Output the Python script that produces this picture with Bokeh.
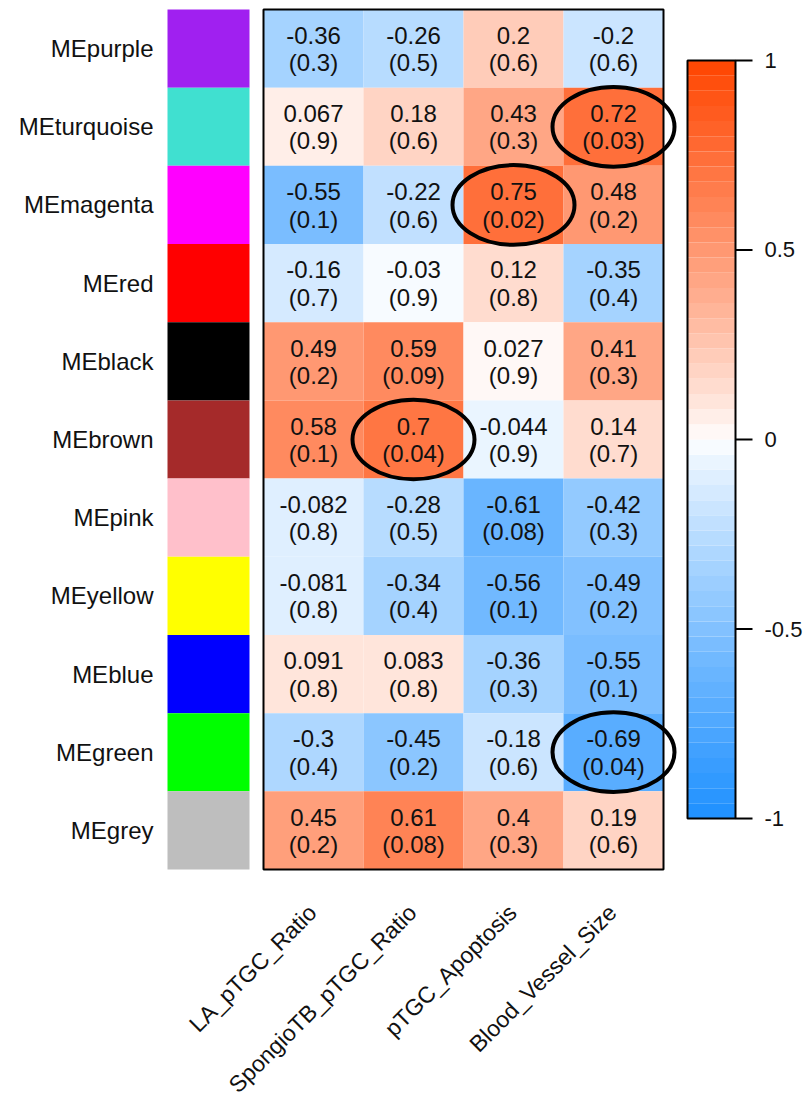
import numpy as np
from bokeh.plotting import figure
from bokeh.models import Range1d, ColumnDataSource
from bokeh.core.properties import value
from bokeh.embed import file_html
from bokeh.resources import INLINE

modules = ["MEpurple", "MEturquoise", "MEmagenta", "MEred", "MEblack", "MEbrown",
           "MEpink", "MEyellow", "MEblue", "MEgreen", "MEgrey"]
module_colors = ["#A020F0", "#40E0D0", "#FF00FF", "#FF0000", "#000000", "#A52A2A",
                 "#FFC0CB", "#FFFF00", "#0000FF", "#00FF00", "#BEBEBE"]
traits = ["LA_pTGC_Ratio", "SpongioTB_pTGC_Ratio", "pTGC_Apoptosis", "Blood_Vessel_Size"]

cor_LA = [-0.36, 0.067, -0.55, -0.16, 0.49, 0.58, -0.082, -0.081, 0.091, -0.3, 0.45]
cor_Spongio = [-0.26, 0.18, -0.22, -0.03, 0.59, 0.7, -0.28, -0.34, 0.083, -0.45, 0.61]
cor_Apop = [0.2, 0.43, 0.75, 0.12, 0.027, -0.044, -0.61, -0.56, -0.36, -0.18, 0.4]
cor_Blood = [-0.2, 0.72, 0.48, -0.35, 0.41, 0.14, -0.42, -0.49, -0.55, -0.69, 0.19]

p_LA = [0.3, 0.9, 0.1, 0.7, 0.2, 0.1, 0.8, 0.8, 0.8, 0.4, 0.2]
p_Spongio = [0.5, 0.6, 0.6, 0.9, 0.09, 0.04, 0.5, 0.4, 0.8, 0.2, 0.08]
p_Apop = [0.6, 0.3, 0.02, 0.8, 0.9, 0.9, 0.08, 0.1, 0.3, 0.6, 0.3]
p_Blood = [0.6, 0.03, 0.2, 0.4, 0.3, 0.7, 0.3, 0.2, 0.1, 0.04, 0.6]

highlighted = [("MEturquoise", "Blood_Vessel_Size"), ("MEmagenta", "pTGC_Apoptosis"),
               ("MEbrown", "SpongioTB_pTGC_Ratio"), ("MEgreen", "Blood_Vessel_Size")]

colorbar_ticks = [-1, -0.5, 0, 0.5, 1]

cors = [cor_LA, cor_Spongio, cor_Apop, cor_Blood]
pvals = [p_LA, p_Spongio, p_Apop, p_Blood]

LOW = np.array([30, 144, 255])
MID = np.array([255, 255, 255])
HIGH = np.array([255, 69, 0])
NBINS = 50


def col_for(v):
    # discretize into NBINS bins across [-1, 1]
    b = min(int((v + 1) / 2 * NBINS), NBINS - 1)
    c = -1 + (b + 0.5) * 2 / NBINS
    t = abs(c) ** 0.85
    end = HIGH if c > 0 else LOW
    rgb = MID * (1 - t) + end * t
    return "#%02x%02x%02x" % tuple(int(round(x)) for x in rgb)


nrow = len(modules)
FONT = value("Liberation Sans")
TXT = "#111111"

p = figure(width=808, height=1103, output_backend="svg", toolbar_location=None,
           x_range=Range1d(-2.63, 5.45), y_range=Range1d(-2.993, 11.115),
           min_border=0, outline_line_color=None, background_fill_color="white")
p.xaxis.visible = False
p.yaxis.visible = False
p.grid.visible = False

# heatmap cells
xs, ys, fills, ctext, ptext = [], [], [], [], []
for j, tr in enumerate(traits):
    for i, m in enumerate(modules):
        xs.append(j + 0.5)
        ys.append(nrow - i - 0.5)
        fills.append(col_for(cors[j][i]))
        ctext.append(str(cors[j][i]))
        ptext.append("(" + str(pvals[j][i]) + ")")
src = ColumnDataSource(dict(x=xs, y=ys, fill=fills, ctext=ctext, ptext=ptext,
                            y1=[y + 0.17 for y in ys], y2=[y - 0.18 for y in ys]))
p.rect("x", "y", width=1, height=1, source=src, fill_color="fill", line_color=None)
p.text("x", "y1", text="ctext", source=src, text_font=FONT, text_font_size="24px",
       text_align="center", text_baseline="middle", text_color=TXT)
p.text("x", "y2", text="ptext", source=src, text_font=FONT, text_font_size="24px",
       text_align="center", text_baseline="middle", text_color=TXT)
p.rect(x=[len(traits) / 2], y=[nrow / 2], width=len(traits), height=nrow,
       fill_color=None, line_color="black", line_width=2)

# module colour column
p.rect(x=[-0.55] * nrow, y=[nrow - i - 0.5 for i in range(nrow)], width=0.82, height=1,
       fill_color=module_colors, line_color=None)
p.text(x=[-1.10] * nrow, y=[nrow - i - 0.5 for i in range(nrow)], text=modules,
       text_font=FONT, text_font_size="24px", text_align="right",
       text_baseline="middle", text_color=TXT)

# trait labels
p.text(x=[j + 0.49 for j in range(len(traits))], y=[-0.50] * len(traits), text=traits,
       angle=np.pi / 4, text_font=FONT, text_font_size="23px", text_align="right",
       text_baseline="middle", text_color=TXT)

# highlighted ellipses
ex = [traits.index(t) + 0.5 for m, t in highlighted]
ey = [nrow - modules.index(m) - 0.5 for m, t in highlighted]
p.ellipse(x=ex, y=ey, width=1.22, height=1.02, fill_color=None, line_color="black",
          line_width=4)

# colour bar
cb_x0, cb_x1 = 4.24, 4.72
cb_mid, cb_half = 5.5, 4.848
edges = np.linspace(-1, 1, NBINS + 1)
centers = (edges[:-1] + edges[1:]) / 2
p.quad(left=cb_x0, right=cb_x1, bottom=cb_mid + edges[:-1] * cb_half,
       top=cb_mid + edges[1:] * cb_half, fill_color=[col_for(c) for c in centers],
       line_color=None)
p.rect(x=[(cb_x0 + cb_x1) / 2], y=[cb_mid], width=cb_x1 - cb_x0, height=2 * cb_half,
       fill_color=None, line_color="black", line_width=2)
ty = [cb_mid + t * cb_half for t in colorbar_ticks]
p.segment(x0=[cb_x1] * len(ty), y0=ty, x1=[cb_x1 + 0.17] * len(ty), y1=ty,
          line_color="black", line_width=2)
p.text(x=[5.01] * len(ty), y=ty, text=[str(t) for t in colorbar_ticks],
       text_font=FONT, text_font_size="22px", text_align="left",
       text_baseline="middle", text_color=TXT)

open("out.html", "w").write(file_html(p, INLINE))
